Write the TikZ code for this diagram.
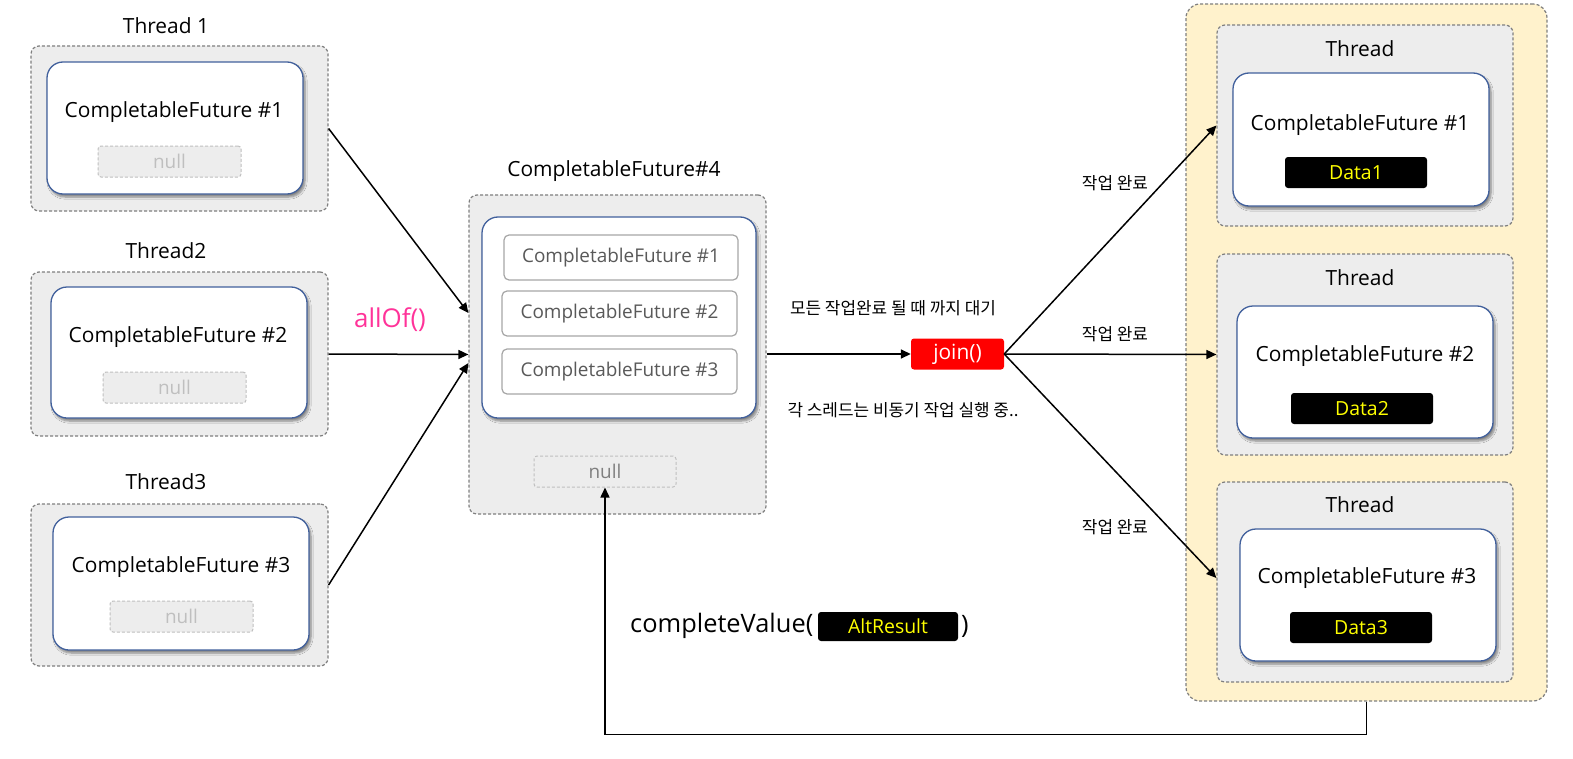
\documentclass[tikz,border=0pt]{standalone}
\usepackage{fontspec}
\setmainfont{Open Sans}
\newfontfamily\kr{Noto Sans CJK KR}
\usetikzlibrary{arrows.meta,shadows.blur,calc}
\definecolor{grayfill}{HTML}{EDEDED}
\definecolor{grayline}{HTML}{7F7F7F}
\definecolor{yelfill}{HTML}{FFF2CC}
\definecolor{blueline}{HTML}{41609C}
\definecolor{nullline}{HTML}{BFBFBF}
\definecolor{subline}{HTML}{A6A6A6}
\definecolor{subtext}{HTML}{595959}
\definecolor{pinktext}{HTML}{FF3399}
\definecolor{datayel}{HTML}{FFFF00}
\tikzset{
  thread/.style={draw=grayline, fill=grayfill, dash pattern=on 3bp off 2bp, line width=1.2bp, rounded corners=8bp, inner sep=0pt},
  outer/.style={draw=grayline, fill=yelfill, dash pattern=on 3bp off 2bp, line width=1.2bp, rounded corners=14bp, inner sep=0pt},
  cfbox/.style={draw=blueline, fill=white, line width=1.3bp, rounded corners=16bp, inner sep=0pt, blur shadow={shadow xshift=2bp, shadow yshift=-3bp, shadow blur steps=6, shadow opacity=45}},
  nullbox/.style={draw=nullline, fill=grayfill, dash pattern=on 3bp off 2bp, line width=1bp, rounded corners=3bp, inner sep=0pt, text=nullline, font=\fontsize{19}{22}\selectfont},
  subbox/.style={draw=subline, fill=white, line width=1.2bp, rounded corners=5bp, inner sep=0pt, text=subtext, font=\fontsize{19}{22}\selectfont},
  databox/.style={fill=black, rounded corners=3bp, inner sep=0pt, minimum width=142bp, minimum height=31bp, text=datayel, font=\fontsize{19.5}{22}\selectfont},
  lbl/.style={inner sep=0pt, font=\fontsize{21}{24}\selectfont},
  cftext/.style={inner sep=0pt, font=\fontsize{21}{24}\selectfont},
  krtext/.style={inner sep=0pt, font=\kr\fontsize{17}{20}\selectfont},
  arr/.style={line width=1.5bp, -{Triangle[length=10bp,width=9bp]}},
}
\begin{document}
\begin{tikzpicture}[x=1bp,y=-1bp]
\useasboundingbox (0,0) rectangle (1573,759);
% ---------- left threads ----------
\node[lbl] (t1lbl) at (166,26) {Thread 1};
\node[thread, minimum width=297bp, minimum height=165bp] (t1) at (179.5,128.5) {};
\node[cfbox, minimum width=256bp, minimum height=132bp] (w1) at (175,128) {};
\node[cftext] (w1t) at (174,112) {CompletableFuture \#1};
\node[nullbox, minimum width=143bp, minimum height=31bp] (n1) at (169.5,161.5) {null};

\node[lbl] (t2lbl) at (166,251) {Thread2};
\node[thread, minimum width=297bp, minimum height=164bp] (t2) at (179.5,354) {};
\node[cfbox, minimum width=256bp, minimum height=131bp] (w2) at (179,352.5) {};
\node[cftext] (w2t) at (178,337) {CompletableFuture \#2};
\node[nullbox, minimum width=143bp, minimum height=31bp] (n2) at (174.5,387.5) {null};

\node[lbl] (t3lbl) at (166,482) {Thread3};
\node[thread, minimum width=297bp, minimum height=162bp] (t3) at (179.5,585) {};
\node[cfbox, minimum width=256bp, minimum height=133bp] (w3) at (181,583.5) {};
\node[cftext] (w3t) at (181,567) {CompletableFuture \#3};
\node[nullbox, minimum width=143bp, minimum height=31bp] (n3) at (181.5,616.5) {null};

% ---------- center ----------
\node[lbl] (c4lbl) at (614,171) {CompletableFuture\#4};
\node[thread, minimum width=297bp, minimum height=319bp] (c4) at (617.5,354.5) {};
\node[cfbox, minimum width=274bp, minimum height=201bp] (c4w) at (619,317.5) {};
\node[subbox, minimum width=234bp, minimum height=45bp] (s1) at (621,257.5) {CompletableFuture \#1};
\node[subbox, minimum width=235bp, minimum height=45bp] (s2) at (619.5,313.5) {CompletableFuture \#2};
\node[subbox, minimum width=235bp, minimum height=45bp] (s3) at (619.5,371.5) {CompletableFuture \#3};
\node[nullbox, minimum width=142bp, minimum height=31bp, text=grayline] (n4) at (605,471.5) {null};

\node[inner sep=0pt, text=pinktext, font=\fontsize{26}{30}\selectfont] (allof) at (390,320) {allOf()};

% ---------- join ----------
\node[fill=red, rounded corners=3bp, inner sep=0pt, minimum width=93bp, minimum height=31bp, text=white, font=\fontsize{21}{24}\selectfont] (join) at (957.5,354) {join()};
\node[krtext] (wait) at (893,308) {모든 작업완료 될 때 까지 대기};
\node[krtext] (running) at (903,410) {각 스레드는 비동기 작업 실행 중..};

% ---------- right ----------
\node[outer, minimum width=361bp, minimum height=697bp] (yel) at (1366.5,352.5) {};
\node[thread, minimum width=296bp, minimum height=201bp] (r1) at (1365,125.5) {};
\node[thread, minimum width=296bp, minimum height=201bp] (r2) at (1365,354.5) {};
\node[thread, minimum width=296bp, minimum height=200bp] (r3) at (1365,582) {};
\node[lbl] (r1lbl) at (1360,49) {Thread};
\node[lbl] (r2lbl) at (1360,278) {Thread};
\node[lbl] (r3lbl) at (1360,505) {Thread};
\node[cfbox, minimum width=256bp, minimum height=133bp] (rw1) at (1361,139.5) {};
\node[cfbox, minimum width=256bp, minimum height=132bp] (rw2) at (1365,372) {};
\node[cfbox, minimum width=256bp, minimum height=132bp] (rw3) at (1368,595) {};
\node[cftext] (rw1t) at (1360,125) {CompletableFuture \#1};
\node[cftext] (rw2t) at (1365,356) {CompletableFuture \#2};
\node[cftext] (rw3t) at (1367,578) {CompletableFuture \#3};
\node[databox] (d1) at (1356,172.5) {Data1};
\node[databox] (d2) at (1362,408.5) {Data2};
\node[databox] (d3) at (1361,627.5) {Data3};

\node[krtext] (done1) at (1115,183) {작업 완료};
\node[krtext] (done2) at (1115,334) {작업 완료};
\node[krtext] (done3) at (1115,527) {작업 완료};

% ---------- completeValue ----------
\node[inner sep=0pt, anchor=west, font=\fontsize{25.5}{30}\selectfont] (cv) at (630,626) {completeValue(};
\node[databox, minimum width=140bp, minimum height=29bp] (alt) at (888,626.5) {AltResult};
\node[inner sep=0pt, anchor=west, font=\fontsize{25.5}{30}\selectfont] (cvclose) at (961,626) {)};

% ---------- connectors ----------
\draw[arr] (t1.east) -- ([yshift=41.5bp]c4.west);
\draw[arr] (t2.east) -- (c4.west);
\draw[arr] (t3.east) -- ([yshift=-8.5bp]c4.west);
\draw[arr] (join.west -| c4.east) -- (join.west);
\draw[arr] (join.east) -- (r1.west);
\draw[arr] (join.east) -- (r2.west);
\draw[arr] (join.east) -- ([yshift=4bp]r3.west);
\draw[arr] (yel.south) -- ++(0,33) -| (n4.south);
\end{tikzpicture}
\end{document}
